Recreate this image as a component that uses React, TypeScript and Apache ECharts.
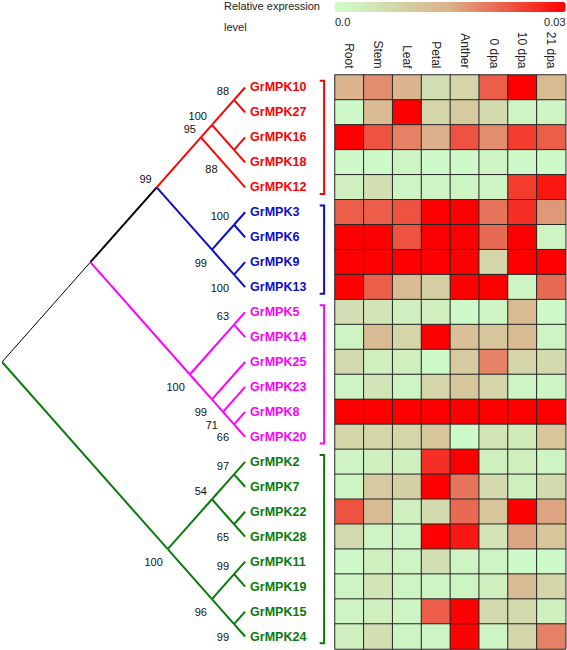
import React, { useEffect, useRef } from 'react';
import * as echarts from 'echarts';

// ---------- data ----------
const tissues = ['Root', 'Stem', 'Leaf', 'Petal', 'Anther', '0 dpa', '10 dpa', '21 dpa'];

const redGroup = ['GrMPK10', 'GrMPK27', 'GrMPK16', 'GrMPK18', 'GrMPK12'];
const blueGroup = ['GrMPK3', 'GrMPK6', 'GrMPK9', 'GrMPK13'];
const magentaGroup = ['GrMPK5', 'GrMPK14', 'GrMPK25', 'GrMPK23', 'GrMPK8', 'GrMPK20'];
const greenGroup = ['GrMPK2', 'GrMPK7', 'GrMPK22', 'GrMPK28', 'GrMPK11', 'GrMPK19', 'GrMPK15', 'GrMPK24'];
const groupMembers = [redGroup, blueGroup, magentaGroup, greenGroup];
const groupColors = ['#ff0000', '#0c0ccc', '#ff00ff', '#0a7a0a'];

// Newick topology with bootstrap values
const redNwk = '(((GrMPK10,GrMPK27)88,(GrMPK16,GrMPK18)88)100,GrMPK12)';
const blueNwk = '((GrMPK3,GrMPK6)100,(GrMPK9,GrMPK13)100)';
const magentaNwk = '((GrMPK5,GrMPK14)63,(GrMPK25,(GrMPK23,(GrMPK8,GrMPK20)66)71)99)';
const greenNwk = '(((GrMPK2,GrMPK7)97,(GrMPK22,GrMPK28)65)54,((GrMPK11,GrMPK19)99,(GrMPK15,GrMPK24)99)96)';
const treeNwk = '(((' + redNwk + '95,' + blueNwk + '99)99,' + magentaNwk + '100),' + greenNwk + '100);';

// expression per gene (rows in tree order), columns = tissues
const expGrMPK10 = [0.014, 0.018, 0.014, 0.006, 0.008, 0.022, 0.030, 0.013];
const expGrMPK27 = [0.001, 0.013, 0.030, 0.008, 0.010, 0.007, 0.002, 0.002];
const expGrMPK16 = [0.030, 0.023, 0.019, 0.015, 0.023, 0.018, 0.025, 0.022];
const expGrMPK18 = [0.001, 0.001, 0.002, 0.001, 0.001, 0.002, 0.001, 0.001];
const expGrMPK12 = [0.003, 0.006, 0.002, 0.002, 0.002, 0.002, 0.025, 0.028];
const expGrMPK3 = [0.022, 0.022, 0.023, 0.030, 0.030, 0.020, 0.026, 0.017];
const expGrMPK6 = [0.030, 0.030, 0.023, 0.030, 0.030, 0.021, 0.030, 0.002];
const expGrMPK9 = [0.030, 0.030, 0.030, 0.030, 0.030, 0.008, 0.030, 0.030];
const expGrMPK13 = [0.030, 0.022, 0.013, 0.009, 0.030, 0.030, 0.002, 0.021];
const expGrMPK5 = [0.006, 0.005, 0.003, 0.003, 0.001, 0.002, 0.013, 0.001];
const expGrMPK14 = [0.002, 0.013, 0.008, 0.030, 0.012, 0.011, 0.013, 0.002];
const expGrMPK25 = [0.007, 0.003, 0.003, 0.001, 0.010, 0.019, 0.008, 0.007];
const expGrMPK23 = [0.002, 0.005, 0.002, 0.008, 0.011, 0.008, 0.002, 0.002];
const expGrMPK8 = [0.030, 0.030, 0.030, 0.030, 0.030, 0.030, 0.030, 0.030];
const expGrMPK20 = [0.008, 0.008, 0.008, 0.011, 0.001, 0.005, 0.004, 0.011];
const expGrMPK2 = [0.002, 0.003, 0.003, 0.026, 0.030, 0.003, 0.003, 0.002];
const expGrMPK7 = [0.002, 0.010, 0.009, 0.030, 0.020, 0.007, 0.003, 0.007];
const expGrMPK22 = [0.023, 0.013, 0.003, 0.007, 0.021, 0.011, 0.030, 0.016];
const expGrMPK28 = [0.007, 0.002, 0.002, 0.030, 0.028, 0.005, 0.016, 0.011];
const expGrMPK11 = [0.001, 0.003, 0.002, 0.006, 0.002, 0.002, 0.001, 0.001];
const expGrMPK19 = [0.002, 0.005, 0.002, 0.002, 0.002, 0.003, 0.013, 0.008];
const expGrMPK15 = [0.002, 0.003, 0.002, 0.022, 0.030, 0.007, 0.007, 0.003];
const expGrMPK24 = [0.003, 0.006, 0.002, 0.002, 0.030, 0.002, 0.008, 0.019];

const expressionByGene: Record<string, number[]> = {
  GrMPK10: expGrMPK10, GrMPK27: expGrMPK27, GrMPK16: expGrMPK16, GrMPK18: expGrMPK18,
  GrMPK12: expGrMPK12, GrMPK3: expGrMPK3, GrMPK6: expGrMPK6, GrMPK9: expGrMPK9,
  GrMPK13: expGrMPK13, GrMPK5: expGrMPK5, GrMPK14: expGrMPK14, GrMPK25: expGrMPK25,
  GrMPK23: expGrMPK23, GrMPK8: expGrMPK8, GrMPK20: expGrMPK20, GrMPK2: expGrMPK2,
  GrMPK7: expGrMPK7, GrMPK22: expGrMPK22, GrMPK28: expGrMPK28, GrMPK11: expGrMPK11,
  GrMPK19: expGrMPK19, GrMPK15: expGrMPK15, GrMPK24: expGrMPK24,
};

const scaleMin = 0;
const scaleMax = 0.03;
const scaleLabels = ['0.0', '0.03'];
const scaleColors = ['#ccffcc', '#dbb08a', '#ff0000'];
const legendTitle = ['Relative expression', 'level'];

// ---------- tree layout ----------
type TNode = { name: string; boot: string; children: TNode[]; first: number; last: number; x: number; y: number; color: string };

function parseNewick(s: string): TNode {
  let i = 0;
  const node = (): TNode => {
    const n: TNode = { name: '', boot: '', children: [], first: 0, last: 0, x: 0, y: 0, color: '#000' };
    if (s[i] === '(') {
      i++;
      n.children.push(node());
      while (s[i] === ',') { i++; n.children.push(node()); }
      i++;
    }
    let t = '';
    while (i < s.length && !',();'.includes(s[i])) t += s[i++];
    if (n.children.length) n.boot = t; else n.name = t;
    return n;
  };
  return node();
}

function colorOfLeaf(name: string) {
  for (let g = 0; g < groupMembers.length; g++) if (groupMembers[g].includes(name)) return groupColors[g];
  return '#000';
}

const FONT = '"Liberation Sans", Arial, Helvetica, sans-serif';

function buildOption() {
  const root = parseNewick(treeNwk);
  const leaves: TNode[] = [];
  const visit = (n: TNode) => {
    if (!n.children.length) {
      n.first = n.last = leaves.length;
      n.color = colorOfLeaf(n.name);
      leaves.push(n);
      return;
    }
    n.children.forEach(visit);
    n.first = n.children[0].first;
    n.last = n.children[n.children.length - 1].last;
    const cols = new Set(n.children.map((c) => c.color));
    n.color = cols.size === 1 ? n.children[0].color : '#000';
  };
  visit(root);
  const nLeaf = leaves.length;
  const place = (n: TNode) => {
    n.x = nLeaf - 1 - (n.last - n.first);
    n.y = (n.first + n.last) / 2;
    n.children.forEach(place);
  };
  place(root);

  const edges: any[] = [];
  const boots: any[] = [];
  const walk = (n: TNode, parent: TNode | null, idx: number) => {
    n.children.forEach((c, ci) => {
      const thin = n === root && c.color === '#000';
      edges.push({ coords: [[n.x, n.y], [c.x, c.y]], lineStyle: { color: c.color, width: thin ? 1 : 2 } });
      walk(c, n, ci);
    });
    if (n.children.length && n.boot && parent) {
      // the label of the GrMPK16/GrMPK18 node sits further down-left in the reference
      const far = n.children[0].name === 'GrMPK16';
      boots.push({
        value: [n.x, n.y],
        label: { formatter: n.boot, offset: far ? [-11.5, 19] : idx === 0 ? [0, -8.5] : [0, 13] },
      });
    }
  };
  walk(root, null, 0);

  const genes = leaves.map((l) => l.name);
  const leafData = leaves.map((l) => ({ value: [l.x, l.y], name: l.name, label: { color: l.color } }));

  const brackets = groupMembers.map((g, gi) => {
    const rows = g.map((nm) => genes.indexOf(nm));
    const a = Math.min(...rows) - 0.27;
    const b = Math.max(...rows) + 0.27;
    return {
      coords: [[28.75, a], [29.15, a], [29.15, b], [28.75, b]],
      lineStyle: { color: groupColors[gi], width: 2 },
    };
  });

  const heat: number[][] = [];
  genes.forEach((g, r) => {
    expressionByGene[g].forEach((v, c) => heat.push([c, r, v]));
  });

  const treeXMax = 29.3;
  const unitPx = 11.05;

  return {
    animation: false,
    textStyle: { fontFamily: FONT },
    grid: [
      { left: 335, top: 75, width: 230.7, height: 574 },
      { left: 2, top: 75, width: treeXMax * unitPx, height: 574 },
    ],
    xAxis: [
      {
        type: 'category', data: tissues, gridIndex: 0, position: 'top',
        axisLine: { show: false }, axisTick: { show: false },
        axisLabel: { rotate: 90, fontSize: 12, color: '#222', margin: 6.5, fontFamily: FONT },
        splitLine: { show: false },
      },
      { type: 'value', gridIndex: 1, min: 0, max: treeXMax, show: false },
    ],
    yAxis: [
      { type: 'category', data: genes, gridIndex: 0, inverse: true, show: false },
      { type: 'value', gridIndex: 1, min: -0.5, max: nLeaf - 0.5, inverse: true, show: false },
    ],
    visualMap: {
      type: 'continuous', min: scaleMin, max: scaleMax, orient: 'horizontal',
      left: 335, top: 2, itemWidth: 10, itemHeight: 230.7, padding: 0,
      calculable: false, hoverLink: false, seriesIndex: 0,
      inRange: { color: scaleColors },
    },
    series: [
      {
        type: 'heatmap', xAxisIndex: 0, yAxisIndex: 0, data: heat,
        itemStyle: { borderColor: '#262626', borderWidth: 1 },
        emphasis: { disabled: true },
      },
      {
        type: 'lines', coordinateSystem: 'cartesian2d', xAxisIndex: 1, yAxisIndex: 1,
        data: edges, silent: true, lineStyle: { opacity: 1, curveness: 0 },
      },
      {
        type: 'lines', coordinateSystem: 'cartesian2d', xAxisIndex: 1, yAxisIndex: 1, polyline: true,
        data: brackets, silent: true, lineStyle: { opacity: 1 },
      },
      {
        type: 'scatter', xAxisIndex: 1, yAxisIndex: 1, data: leafData, symbolSize: 1,
        itemStyle: { color: 'rgba(0,0,0,0)', opacity: 1 }, silent: true,
        emphasis: { disabled: true },
        label: { show: true, opacity: 1, position: 'right', distance: 4.5, formatter: '{b}', fontSize: 12.5, fontWeight: 'bold', fontFamily: FONT, textBorderWidth: 0 },
      },
      {
        type: 'scatter', xAxisIndex: 1, yAxisIndex: 1, data: boots, symbolSize: 1,
        itemStyle: { color: 'rgba(0,0,0,0)', opacity: 1 }, silent: true,
        emphasis: { disabled: true },
        label: { show: true, opacity: 1, position: 'left', distance: 4.5, fontSize: 11, color: '#111', fontFamily: FONT, textBorderWidth: 0 },
      },
    ],
    graphic: [
      { type: 'text', left: 224, top: 0, style: { text: legendTitle[0], font: '11px ' + FONT, fill: '#222' } },
      { type: 'text', left: 224, top: 21.5, style: { text: legendTitle[1], font: '11px ' + FONT, fill: '#222' } },
      { type: 'text', left: 335, top: 16, style: { text: scaleLabels[0], font: '11px ' + FONT, fill: '#222' } },
      { type: 'text', right: 1.5, top: 16, style: { text: scaleLabels[1], font: '11px ' + FONT, fill: '#222' } },
    ],
  };
}

export default function App() {
  const ref = useRef<HTMLDivElement>(null);
  useEffect(() => {
    if (!ref.current) return;
    const chart = echarts.init(ref.current, undefined, { renderer: 'svg' });
    chart.setOption(buildOption() as any);
    return () => chart.dispose();
  }, []);
  return <div ref={ref} style={{ position: 'absolute', left: 0, top: 0, width: 567, height: 650, background: '#fff' }} />;
}
